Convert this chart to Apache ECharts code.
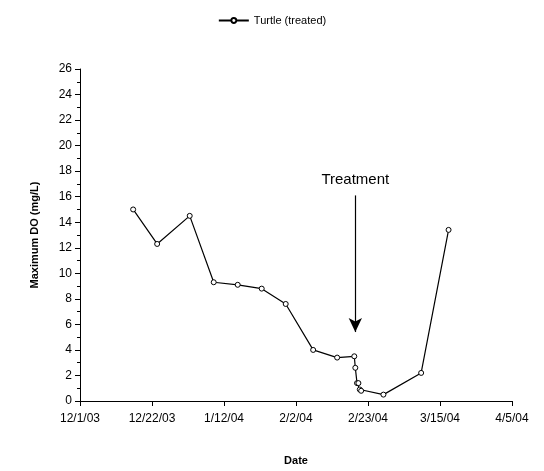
<!DOCTYPE html><html><head><meta charset="utf-8"><script src="https://cdn.jsdelivr.net/npm/echarts@6/dist/echarts.min.js"></script></head><body style="margin:0"><div id="c" style="width:544px;height:471px"></div><script>
// days since 12/1/03
const days=[15.5,22.5,32,39,46,53,60,68,75,80,80.3,80.8,81.2,81.6,82,88.5,99.5,107.5];
const values=[15.0,12.3,14.5,9.3,9.1,8.8,7.6,4.0,3.4,3.5,2.6,1.4,1.4,0.9,0.8,0.5,2.2,13.4];
const xTickLabels=['12/1/03','12/22/03','1/12/04','2/2/04','2/23/04','3/15/04','4/5/04'];
const c=echarts.init(document.getElementById('c'));
const ft='Arial, Liberation Sans';
c.setOption({animation:false,
legend:{top:10,data:[{name:'Turtle (treated)',icon:'path://M0,5L12,5M18,5L30,5M15,2.5A2.5,2.5 0 1 1 14.99,2.5Z'}],textStyle:{fontFamily:ft,fontSize:11,color:'#000'},itemWidth:30,itemHeight:6},
grid:{left:80,right:32,top:69,bottom:69},
xAxis:{type:'value',min:0,max:126,interval:21,name:'Date',nameLocation:'middle',nameGap:54,
 nameTextStyle:{fontFamily:ft,fontWeight:'bold',fontSize:11,color:'#000'},
 axisLine:{lineStyle:{color:'#000'}},axisTick:{lineStyle:{color:'#000'}},splitLine:{show:false},
 axisLabel:{fontFamily:ft,fontSize:12,color:'#000',margin:12,formatter:v=>xTickLabels[Math.round(v/21)]}},
yAxis:{type:'value',min:0,max:26,interval:2,name:'Maximum DO (mg/L)',nameLocation:'middle',nameGap:40,
 nameTextStyle:{fontFamily:ft,fontWeight:'bold',fontSize:11,color:'#000'},
 axisLine:{show:true,lineStyle:{color:'#000'}},axisTick:{show:true,lineStyle:{color:'#000'}},
 minorTick:{show:true,splitNumber:2,lineStyle:{color:'#000'}},splitLine:{show:false},
 axisLabel:{fontFamily:ft,fontSize:12,color:'#000'}},
series:[{name:'Turtle (treated)',type:'line',data:days.map((d,i)=>[d,values[i]]),symbol:'circle',symbolSize:5,
 itemStyle:{color:'#fff',borderColor:'#000',borderWidth:1},lineStyle:{color:'#000',width:1.2},
 markLine:{silent:true,symbol:['none','arrow'],symbolSize:[10,14],lineStyle:{color:'#000',type:'solid',width:1.2},
  label:{show:true,position:'start',formatter:'Treatment',fontFamily:ft,fontSize:15,color:'#000',distance:8},
  data:[[{coord:[80.3,16.1]},{coord:[80.3,5.4]}]]}}]});
</script></body></html>
